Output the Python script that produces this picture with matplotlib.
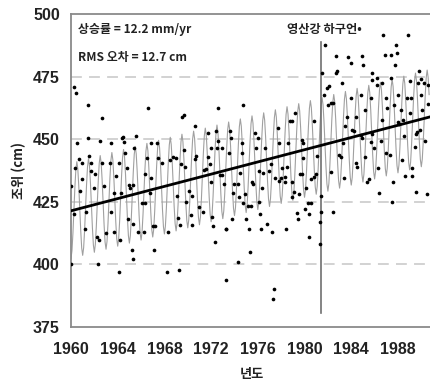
import matplotlib
matplotlib.use("Agg")
import matplotlib.pyplot as plt
import numpy as np

# ---------------- data ----------------
obs_year = [
    1960.00, 1960.00, 1960.23, 1960.28, 1960.30, 1960.45, 1960.51, 1960.66, 1960.74, 1960.94, 1960.96,
    1961.22, 1961.31, 1961.43, 1961.48, 1961.57, 1961.71, 1961.74, 1961.94, 1962.05,
    1962.23, 1962.29, 1962.37, 1962.46, 1962.63, 1962.65, 1962.85, 1963.02,
    1963.36, 1963.42, 1963.45, 1963.66, 1963.71, 1963.88, 1964.08, 1964.14, 1964.17, 1964.28, 1964.37,
    1964.43, 1964.54, 1964.62, 1964.82, 1964.84, 1964.94, 1965.05, 1965.20, 1965.33, 1965.35, 1965.31,
    1965.42, 1965.57, 1965.76, 1966.05, 1966.25, 1966.34, 1966.36, 1966.48, 1966.62, 1966.76, 1966.82,
    1966.84, 1967.00, 1967.13, 1967.19, 1967.39, 1967.47, 1967.77, 1968.25, 1968.33, 1968.48, 1968.71,
    1968.96, 1969.08, 1969.16, 1969.25, 1969.31, 1969.44, 1969.53, 1969.65, 1969.68, 1969.79, 1969.87,
    1970.10, 1970.30, 1970.32, 1970.39, 1970.59, 1970.61, 1970.73, 1970.96, 1971.30, 1971.36, 1971.58,
    1971.73, 1971.75, 1971.88, 1972.01, 1972.03, 1972.10, 1972.16, 1972.30, 1972.44, 1972.46, 1972.59,
    1972.61, 1972.73, 1972.93, 1972.95, 1973.07, 1973.25, 1973.30,
    1973.27, 1973.55, 1973.61, 1973.70, 1973.78, 1973.84, 1973.98, 1974.27, 1974.29, 1974.41, 1974.47,
    1974.64, 1974.66, 1974.70, 1974.75, 1974.92, 1974.98, 1975.13, 1975.21, 1975.33, 1975.41, 1975.50,
    1975.56, 1975.78, 1975.80, 1975.99, 1976.12, 1976.14, 1976.18, 1976.27, 1976.35, 1976.41, 1976.64,
    1976.76, 1976.93, 1977.12, 1977.21, 1977.32, 1977.41, 1977.49, 1977.70, 1977.78, 1977.80,
    1977.95, 1978.09, 1978.32, 1978.34, 1978.43, 1978.52, 1978.60, 1978.75, 1978.90, 1978.92, 1978.95,
    1979.09, 1979.18, 1979.38, 1979.40, 1979.52, 1979.58, 1979.75, 1979.80, 1979.86, 1979.88, 1980.03,
    1980.09, 1980.32, 1980.34, 1980.38, 1980.52, 1980.54, 1980.81, 1980.83, 1981.00, 1981.09, 1981.29,
    1981.38, 1981.36, 1981.40, 1981.52, 1981.66, 1981.75, 1981.94, 1982.03, 1982.09, 1982.24,
    1982.26, 1982.43, 1982.45, 1982.66, 1982.71, 1982.80, 1982.95, 1983.09, 1983.23, 1983.25, 1983.37,
    1983.46, 1983.66, 1983.74, 1983.95, 1983.97, 1984.03, 1984.23, 1984.38, 1984.40, 1984.51, 1984.80,
    1984.82, 1984.89, 1984.94, 1985.00, 1985.17, 1985.19, 1985.37, 1985.51, 1985.75, 1985.77, 1985.73,
    1985.79, 1985.71, 1985.94, 1986.22, 1986.24, 1986.31, 1986.37,
    1986.52, 1986.60, 1986.65, 1986.71, 1986.88, 1986.94, 1987.00, 1987.08, 1987.37, 1987.39, 1987.35,
    1987.51, 1987.57, 1987.65, 1987.74, 1987.80, 1987.94, 1987.96, 1988.02, 1988.08, 1988.23, 1988.37,
    1988.43, 1988.51, 1988.60, 1988.79, 1988.88, 1989.00, 1989.02, 1989.08, 1989.22, 1989.24, 1989.45,
    1989.51, 1989.56, 1989.65, 1989.73, 1989.79, 1989.94, 1989.96, 1989.92, 1990.08, 1990.22, 1990.31,
    1990.45, 1990.59, 1990.61,
]
obs_level = [
    431.3, 400.2, 420.1, 470.7, 438.4, 468.6, 448.4, 442.0, 429.4, 440.4, 434.0,
    414.0, 421.0, 450.4, 463.7, 443.2, 440.4, 437.4, 430.4, 436.0,
    411.1, 400.2, 409.7, 449.3, 458.6, 440.4, 431.3, 412.4,
    440.4, 448.4, 421.0, 413.0, 428.4, 435.3, 397.1, 440.4, 409.7, 428.4, 450.4,
    450.8, 449.0, 444.4, 438.4, 418.0, 431.7, 430.4, 405.7, 431.7, 416.1, 402.0,
    446.4, 451.3, 413.0, 424.4, 413.0, 424.4, 436.0, 442.4, 462.3, 428.4, 448.6,
    434.4, 415.5, 405.7, 415.5, 448.6, 442.4, 440.4, 397.0, 413.0, 441.7, 443.0,
    442.4, 427.3, 418.4, 397.6, 415.7, 440.0, 458.7, 459.7, 445.5, 439.0, 425.0,
    429.4, 419.7, 415.7, 427.3, 455.4, 442.0, 443.4, 422.8, 421.0, 437.7, 438.0,
    452.6, 442.8, 440.0, 446.4, 433.0, 419.0, 415.3, 409.0, 453.3, 446.4, 462.3,
    449.4, 435.7, 435.7, 446.4, 432.0, 414.0, 393.7,
    414.0, 444.4, 453.4, 450.4, 418.0, 428.4, 432.0, 432.0, 401.1, 426.8, 436.4,
    448.6, 444.4, 424.4, 463.7, 428.0, 418.0, 423.3, 414.0, 405.0, 423.3, 433.0,
    432.0, 452.6, 446.4, 450.4, 437.4, 425.0, 420.0, 414.0, 430.4, 436.4, 446.4,
    416.0, 437.4, 440.0, 413.0, 386.0, 390.0, 434.4, 454.3, 448.6, 433.4,
    434.4, 438.4, 435.0, 433.0, 414.0, 439.0, 448.4, 457.4, 457.4, 433.0, 427.0,
    429.0, 460.3, 420.4, 418.0, 428.0, 436.0, 449.7, 436.0, 448.4, 442.4, 422.0,
    430.4, 424.4, 420.0, 411.0, 424.4, 434.0, 457.4, 435.0, 436.0, 443.3, 408.0,
    427.3, 417.0, 421.0, 476.6, 467.7, 487.6, 470.3, 463.7, 471.2, 437.0,
    464.6, 464.6, 421.0, 476.3, 483.2, 477.4, 443.7, 443.0, 472.6, 448.6, 434.4,
    455.3, 459.0, 483.0, 480.6, 466.3, 453.7, 453.4, 459.0, 440.4, 439.0, 467.7,
    451.7, 483.2, 450.4, 479.6, 461.7, 442.8, 433.0, 434.0, 476.6, 473.6, 466.6,
    452.0, 449.0, 446.4, 474.6, 471.6, 438.4, 428.6,
    449.4, 457.7, 472.6, 491.6, 483.6, 466.3, 444.4, 462.3, 483.6, 474.3, 443.7,
    425.0, 433.0, 463.7, 479.6, 487.6, 484.5, 457.0, 467.7, 456.0, 461.7, 441.7,
    457.7, 451.3, 435.3, 466.3, 491.6, 473.4, 460.3, 466.3, 438.4, 435.3, 447.0,
    429.0, 452.0, 453.0, 472.6, 477.4, 474.0, 467.7, 453.7, 461.7, 472.6, 449.4,
    428.0, 471.6, 464.0,
]

# fitted model: linear trend + monthly seasonal offsets
trend_start_year = 1960.0
trend_start_level = 421.4          # cm at 1960
rise_rate = 1.22                   # cm / yr (12.2 mm/yr)
seasonal_offset = [-19, -16, -9, 0, 9, 16, 19, 16, 9, 0, -9, -16]   # Jan..Dec, cm
model_years = list(range(1960, 1991))

dam_year = 1981.37
dam_span = (380.5, 489.0)

x_ticks = [1960, 1964, 1968, 1972, 1976, 1980, 1984, 1988]
y_ticks = [375, 400, 425, 450, 475, 500]
grid_levels = [400, 425, 450, 475]

rate_text = "상승률 = 12.2 mm/yr"
rms_text = "RMS 오차 = 12.7 cm"
dam_text = "영산강 하구언•"
y_label = "조위 (cm)"
x_label = "년도"

# ---------------- figure ----------------
KR = ['Noto Sans CJK KR', 'DejaVu Sans']
NUM = ['Liberation Sans Narrow', 'Liberation Sans', 'DejaVu Sans']

fig = plt.figure(figsize=(4.30, 3.81), dpi=100)
ax = fig.add_axes([71 / 430, 1 - 327 / 381, 362 / 430, 313 / 381])
ax.set_xlim(1960, 1991)
ax.set_ylim(375, 500)

for g in grid_levels:
    ax.axhline(g, color='#cfcfcf', lw=1.3, dashes=(6, 4), zorder=1)

# seasonal model curve
mt, mv = [], []
for yr in model_years:
    for m, off in enumerate(seasonal_offset):
        t = yr + m / 12
        if t > 1990.7:
            break
        mt.append(t)
        mv.append(trend_start_level + rise_rate * (t - trend_start_year) + off)
ax.plot(mt, mv, color='#a0a0a0', lw=0.8, zorder=2)

# trend line
tx = np.array([1960, 1991])
ax.plot(tx, trend_start_level + rise_rate * (tx - trend_start_year), color='black', lw=2.0, zorder=4)

# observations
ax.scatter(obs_year, obs_level, s=7, color='black', zorder=5, linewidths=0)

# dam completion line
ax.plot([dam_year, dam_year], dam_span, color='#707070', lw=1.2, zorder=3)
ax.text(dam_year + 0.3, 493.7, dam_text, ha='center', va='center', fontsize=8.8,
        fontweight='bold', family=KR, color='#222222')

ax.text(0.018, 0.952, rate_text, transform=ax.transAxes, ha='left', va='center',
        fontsize=8.6, fontweight='bold', family=KR, color='#222222')
ax.text(0.018, 0.862, rms_text, transform=ax.transAxes, ha='left', va='center',
        fontsize=8.6, fontweight='bold', family=KR, color='#222222')

for side in ['top', 'left', 'bottom']:
    ax.spines[side].set_color('#8a8a8a')
    ax.spines[side].set_linewidth(1.3)
ax.spines['right'].set_visible(False)

ax.set_xticks(x_ticks)
ax.set_yticks(y_ticks)
ax.tick_params(length=0)
ax.tick_params(axis='x', pad=11)
ax.tick_params(axis='y', pad=8)
for lab in ax.get_xticklabels() + ax.get_yticklabels():
    lab.set_family(NUM)
    lab.set_fontweight('bold')
    lab.set_fontsize(11.5)
    lab.set_color('#222222')

ax.set_xlabel(x_label, family=KR, fontweight='bold', fontsize=9.5, color='#222222', labelpad=7)
ax.set_ylabel(y_label, family=KR, fontweight='bold', fontsize=9.5, color='#222222', labelpad=5)

fig.savefig('out.png', dpi=100)
